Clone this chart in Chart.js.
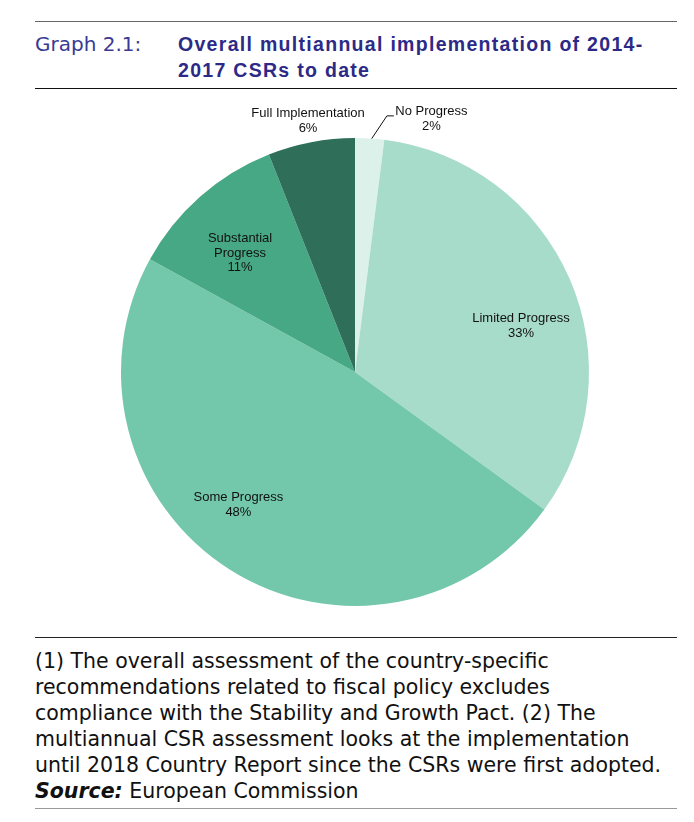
<!DOCTYPE html>
<html>
<head>
<meta charset="utf-8">
<script src="https://cdn.jsdelivr.net/npm/chart.js@4.4.1/dist/chart.umd.min.js"></script>
<style>
  body { margin: 0; background: #fff; width: 694px; height: 822px; position: relative; overflow: hidden; }
  .rule { position: absolute; left: 35px; width: 642px; height: 0; }
  #head1 { position: absolute; left: 35px; top: 31px; font: 20px "DejaVu Sans", sans-serif; color: #3a3a94; line-height: 26px; }
  #head2 { position: absolute; left: 178px; top: 31px; font: bold 19.5px "Liberation Sans", sans-serif; letter-spacing: 1.3px; color: #2c2a86; line-height: 26px; }
  #note { position: absolute; left: 35px; top: 648px; font: 20.5px "DejaVu Sans", sans-serif; color: #111; line-height: 26px; white-space: nowrap; }
  #wrap { position: absolute; left: 0; top: 100px; width: 694px; height: 530px; }
</style>
</head>
<body>
<div class="rule" style="top:21px;border-top:1px solid #666"></div>
<div id="head1">Graph 2.1:</div>
<div id="head2">Overall multiannual implementation of 2014-<br>2017 CSRs to date</div>
<div class="rule" style="top:88px;border-top:1.5px solid #111"></div>
<div id="wrap"><canvas id="chart"></canvas></div>
<div class="rule" style="top:637px;border-top:1px solid #222"></div>
<div id="note">(1) The overall assessment of the country-specific<br>recommendations related to fiscal policy excludes<br>compliance with the Stability and Growth Pact. (2) The<br>multiannual CSR assessment looks at the implementation<br>until 2018 Country Report since the CSRs were first adopted.<br><b><i>Source:</i></b> European Commission</div>
<div class="rule" style="top:808px;border-top:1px solid #999"></div>
<script>
var categories = ['No Progress', 'Limited Progress', 'Some Progress', 'Substantial Progress', 'Full Implementation'];
var shares = [2, 33, 48, 11, 6];
var labelLines = [['No Progress', '2%'], ['Limited Progress', '33%'], ['Some Progress', '48%'], ['Substantial', 'Progress', '11%'], ['Full Implementation', '6%']];
var colours = ['#dcf1ea', '#a8dcca', '#73c7ab', '#47a886', '#2f6f5a'];

// where each label sits: angle from 12 o'clock (deg, clockwise) and radius factor
var labelPlace = [[16.8, 1.13], [74.5, 0.736], [221.3, 0.755], [316.0, 0.707], [349.4, 1.091]];

var sliceLabels = {
  id: 'sliceLabels',
  afterDatasetsDraw: function(chart) {
    var c = chart.ctx;
    var meta = chart.getDatasetMeta(0);
    c.save();
    c.font = '13px "Liberation Sans", Arial, sans-serif';
    c.fillStyle = '#111';
    c.textAlign = 'center';
    c.textBaseline = 'middle';
    meta.data.forEach(function(arc, i) {
      var cx = arc.x, cy = arc.y, r = arc.outerRadius;
      var a = labelPlace[i][0] * Math.PI / 180;
      var px = cx + Math.sin(a) * r * labelPlace[i][1];
      var py = cy - Math.cos(a) * r * labelPlace[i][1];
      var lines = labelLines[i];
      var h = 14.5;
      var y0 = py - (lines.length - 1) * h / 2;
      lines.forEach(function(t, k) { c.fillText(t, px, y0 + k * h); });
      if (i == 0) {
        // leader line for the thin slice
        var a1 = 4.1 * Math.PI / 180, a2 = 7.1 * Math.PI / 180;
        var ex = cx + Math.sin(a1) * r, ey = cy - Math.cos(a1) * r;
        var mx = cx + Math.sin(a2) * r * 1.103, my = cy - Math.cos(a2) * r * 1.103;
        c.strokeStyle = '#111';
        c.lineWidth = 1;
        c.beginPath();
        c.moveTo(ex, ey);
        c.lineTo(mx, my);
        c.lineTo(mx + 7, my);
        c.stroke();
      }
    });
    c.restore();
  }
};

var ctx = document.getElementById('chart').getContext('2d');
var myChart = new Chart(ctx, {
  type: 'pie',
  data: {
    labels: categories,
    datasets: [{
      data: shares,
      backgroundColor: colours,
      borderWidth: 0
    }]
  },
  options: {
    responsive: true,
    maintainAspectRatio: false,
    animation: false,
    layout: { padding: { top: 38, bottom: 24, left: 121, right: 105 } },
    plugins: {
      legend: { display: false },
      tooltip: { enabled: false }
    }
  },
  plugins: [sliceLabels]
});
</script>
</body>
</html>
